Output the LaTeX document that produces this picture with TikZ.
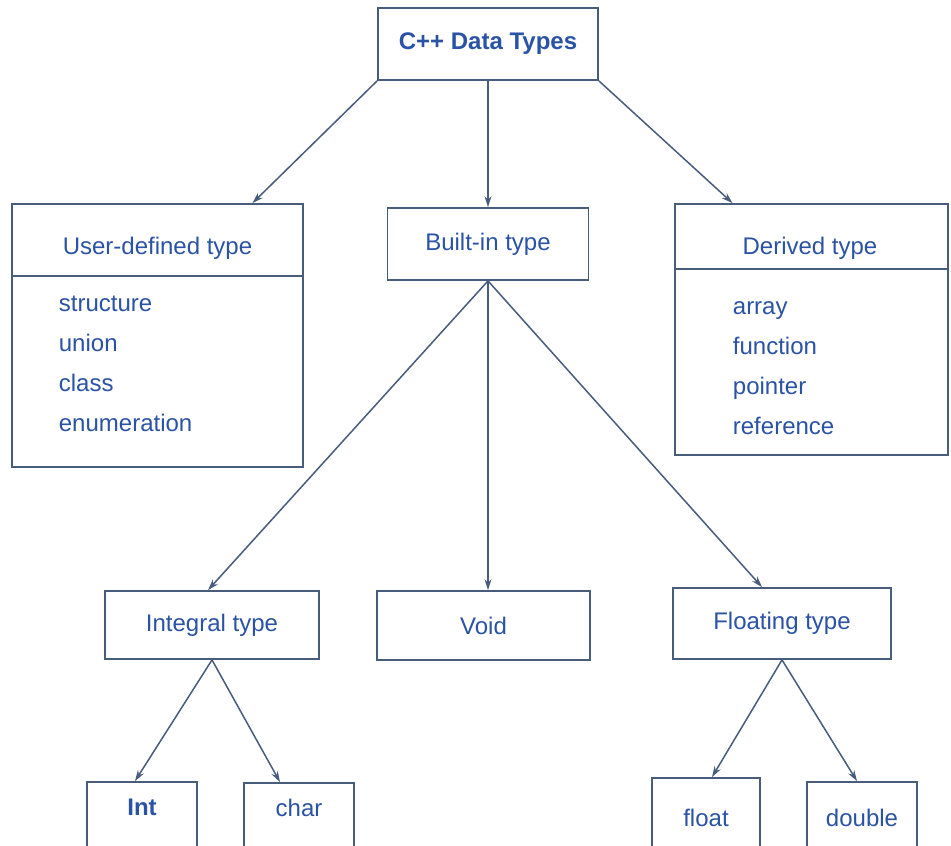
\documentclass[tikz,border=0pt]{standalone}
\usepackage{fontspec}
\setmainfont{Liberation Sans}
\usetikzlibrary{arrows.meta}
\definecolor{edge}{RGB}{72,92,124}
\definecolor{ink}{RGB}{42,82,165}

\begin{document}
\begin{tikzpicture}[x=1pt,y=-1pt,line width=1.8pt,
  box/.style={draw=edge,inner sep=0pt,text=ink},
  leaf/.style={box,minimum width=110pt,text height=33pt,text depth=47pt},
  arr/.style={draw=edge,line width=1.5pt,-{Stealth[length=11pt,width=7pt]}}]
  \fontsize{24}{40}\selectfont
  \useasboundingbox[fill=white] (0,0) rectangle (951,846);
  \clip (0,0) rectangle (951,846);
  % root
  \node[box,minimum width=220pt,minimum height=72pt,font=\bfseries] (top) at (488,44) {C++ Data Types};
  % second row
  \node[box,minimum width=291pt,minimum height=263pt] (user) at (157.5,335.5) {};
  \node[text=ink] (usertitle) at (157.5,248) {User-defined type};
  \draw[edge] ([yshift=-73pt]user.north west) -- ([yshift=-73pt]user.north east);
  \node[text=ink,anchor=west,align=left,inner sep=0pt] (userlist) at (58,364) {structure\\union\\class\\enumeration};
  \node[box,minimum width=201pt,minimum height=72pt] (built) at (488,244) {Built-in type};
  \node[box,minimum width=273pt,minimum height=251pt] (derived) at (811.5,329.5) {};
  \node[text=ink] (derivedtitle) at (810,248) {Derived type};
  \draw[edge] ([yshift=-66pt]derived.north west) -- ([yshift=-66pt]derived.north east);
  \node[text=ink,anchor=west,align=left,inner sep=0pt] (derivedlist) at (732,368) {array\\function\\pointer\\reference};
  % third row
  \node[box,minimum width=214pt,minimum height=68pt] (integral) at (212,625) {Integral type};
  \node[box,minimum width=213pt,minimum height=69pt] (void) at (483.5,625.5) {Void};
  \node[box,minimum width=218pt,minimum height=71pt] (floating) at (782,623.5) {Floating type};
  % leaves
  \node[leaf,anchor=base,font=\bfseries] (int) at (142,815) {Int};
  \node[leaf,anchor=base] (char) at (299,816) {char};
  \node[leaf,anchor=base,minimum width=108pt,text height=48pt] (float) at (706,826) {float};
  \node[leaf,anchor=base,text height=44pt] (double) at (862,826) {double};
  % arrows
  \draw[arr] (top.south west) -- ([xshift=95pt]user.north);
  \draw[arr] (top.south) -- (built.north);
  \draw[arr] (top.south east) -- ([xshift=-79pt]derived.north);
  \draw[arr] (built.south) -- ([xshift=-4pt]integral.north);
  \draw[arr] (built.south) -- (void.north -| built.south);
  \draw[arr] (built.south) -- ([xshift=-20pt]floating.north);
  \draw[arr] (integral.south) -- ([xshift=-7pt]int.north);
  \draw[arr] (integral.south) -- ([xshift=-19pt]char.north);
  \draw[arr] (floating.south) -- ([xshift=6pt]float.north);
  \draw[arr] (floating.south) -- ([xshift=-5pt]double.north);
\end{tikzpicture}
\end{document}
